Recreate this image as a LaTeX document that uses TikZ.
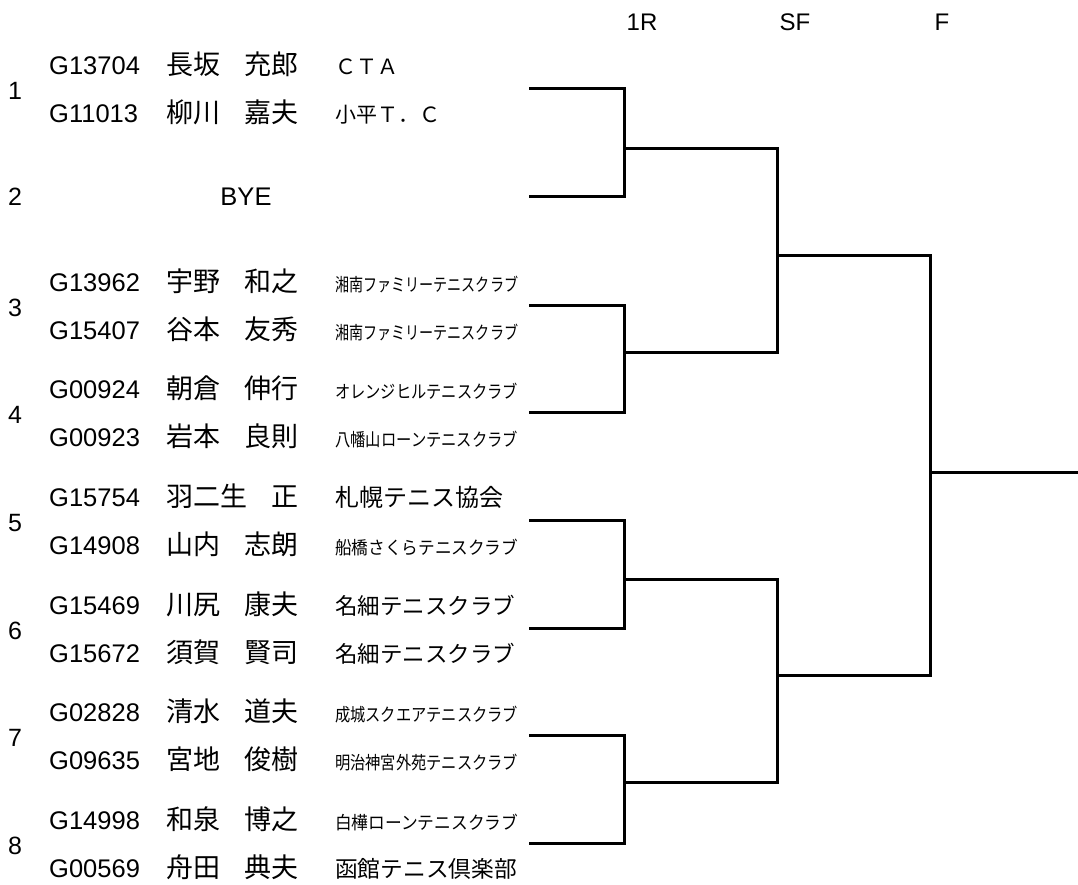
\documentclass[tikz,border=0pt]{standalone}
\usepackage{fontspec}
\setmainfont{Liberation Sans}
\newfontfamily\jp{Noto Sans CJK JP}
\begin{document}
\begin{tikzpicture}[x=1pt,y=-1pt,
  lat/.style={font=\fontsize{25.5}{25.5}\selectfont, inner sep=0pt, anchor=base west},
  nm/.style={font=\jp\fontsize{27}{27}\selectfont, inner sep=0pt, anchor=base west},
  gn/.style={font=\jp\fontsize{27}{27}\selectfont, inner sep=0pt, anchor=base east},
  cl/.style={font=\jp\fontsize{#1}{#1}\selectfont, inner sep=0pt, anchor=base west},
  num/.style={font=\fontsize{25}{25}\selectfont, inner sep=0pt, anchor=base},
  hd/.style={font=\fontsize{24}{24}\selectfont, inner sep=0pt, anchor=base},
  br/.style={line width=3pt, line join=miter}]
\useasboundingbox (0,0) rectangle (1078,885);
\newcommand\plrow[7]{%
  \node[lat] (id#1) at (49,#2) {#3};
  \node[nm] (sn#1) at (166,#2) {#4};
  \node[gn] (gn#1) at (299,#2) {#5};
  \node[cl=#6] (cl#1) at (335,#2) {#7};
}
\newcommand\fitclub[1]{\resizebox{183pt}{\height}{#1}}
% header
\node[hd] (r1) at (642,31) {1R};
\node[hd] (sf) at (795,31) {SF};
\node[hd] (fi) at (942,31) {F};
% seed numbers
\node[num] (n1) at (15,100) {1};
\node[num] (n2) at (15,206) {2};
\node[num] (n3) at (15,316) {3};
\node[num] (n4) at (15,423) {4};
\node[num] (n5) at (15,531) {5};
\node[num] (n6) at (15,639) {6};
\node[num] (n7) at (15,746) {7};
\node[num] (n8) at (15,854) {8};
% players
\plrow{a}{75}{G13704}{長坂}{充郎}{21}{ＣＴＡ}
\plrow{b}{123}{G11013}{柳川}{嘉夫}{21}{小平Ｔ．Ｃ}
\node[lat, anchor=base] (bye) at (246,206) {BYE};
\plrow{c}{291}{G13962}{宇野}{和之}{18}{\fitclub{湘南ファミリーテニスクラブ}}
\plrow{d}{339}{G15407}{谷本}{友秀}{18}{\fitclub{湘南ファミリーテニスクラブ}}
\plrow{e}{398}{G00924}{朝倉}{伸行}{18}{\fitclub{オレンジヒルテニスクラブ}}
\plrow{f}{446}{G00923}{岩本}{良則}{18}{\fitclub{八幡山ローンテニスクラブ}}
\plrow{g}{506}{G15754}{羽二生}{正}{24}{札幌テニス協会}
\plrow{h}{554}{G14908}{山内}{志朗}{18}{\fitclub{船橋さくらテニスクラブ}}
\plrow{i}{614}{G15469}{川尻}{康夫}{22.5}{名細テニスクラブ}
\plrow{j}{662}{G15672}{須賀}{賢司}{22.5}{名細テニスクラブ}
\plrow{k}{721}{G02828}{清水}{道夫}{18}{\fitclub{成城スクエアテニスクラブ}}
\plrow{l}{769}{G09635}{宮地}{俊樹}{18}{\fitclub{明治神宮外苑テニスクラブ}}
\plrow{m}{829}{G14998}{和泉}{博之}{18}{\fitclub{白樺ローンテニスクラブ}}
\plrow{n}{877}{G00569}{舟田}{典夫}{22.7}{函館テニス倶楽部}
% bracket coordinates
\coordinate (s1) at (529,89);
\coordinate (s2) at (529,197);
\coordinate (s3) at (529,305);
\coordinate (s4) at (529,412);
\coordinate (s5) at (529,520);
\coordinate (s6) at (529,628);
\coordinate (s7) at (529,735);
\coordinate (s8) at (529,843);
\coordinate (q12) at (624,149);
\coordinate (q34) at (624,352);
\coordinate (q56) at (624,579);
\coordinate (q78) at (624,782);
\coordinate (h1) at (777,256);
\coordinate (h2) at (777,675);
\coordinate (fm) at (930,472);
\coordinate (win) at (1078,472);
% bracket
\draw[br] (s1) -| (q12) |- (s2);
\draw[br] (s3) -| (q34) |- (s4);
\draw[br] (s5) -| (q56) |- (s6);
\draw[br] (s7) -| (q78) |- (s8);
\draw[br] (q12) -| (h1) |- (q34);
\draw[br] (q56) -| (h2) |- (q78);
\draw[br] (h1) -| (fm) |- (h2);
\draw[br] (fm) -- (win);
\end{tikzpicture}
\end{document}
